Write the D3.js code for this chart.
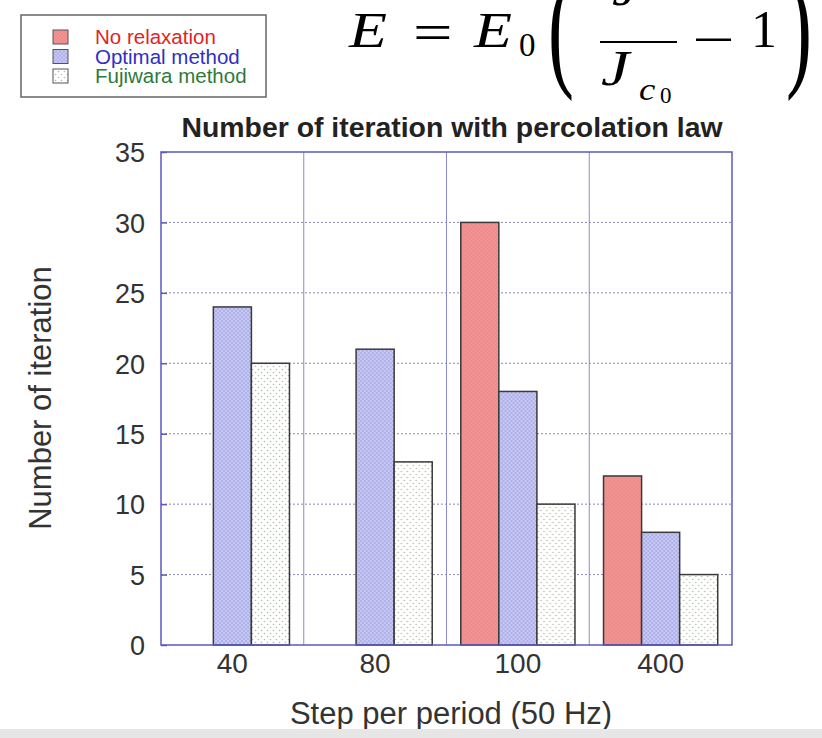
<!DOCTYPE html>
<html>
<head>
<meta charset="utf-8">
<script src="https://cdn.jsdelivr.net/npm/d3@7/dist/d3.min.js"></script>
<style>
  body { margin: 0; background: #fff; }
  svg { display: block; }
</style>
</head>
<body>
<div id="chart"></div>
<script>
const categories = ['40', '80', '100', '400'];
const seriesNames = ['No relaxation', 'Optimal method', 'Fujiwara method'];
const noRelaxation = [0, 0, 30, 12];
const optimalMethod = [24, 21, 18, 8];
const fujiwaraMethod = [20, 13, 10, 5];
const yTicks = [0, 5, 10, 15, 20, 25, 30, 35];

const seriesValues = [noRelaxation, optimalMethod, fujiwaraMethod];
const legendColors = ['#e02424', '#2f2fc4', '#2f7a3a'];

const width = 822;
const height = 738;
const margin = { top: 152, right: 90, bottom: 93, left: 161 };
const plotW = width - margin.left - margin.right;
const plotH = height - margin.top - margin.bottom;

const svg = d3.select('#chart')
  .append('svg')
  .attr('width', width)
  .attr('height', height)
  .style('font-family', '"Liberation Sans", Arial, sans-serif');

// Patterns for the bar fills
const defs = svg.append('defs');

function dotPattern(id, bg, dot, step, r) {
  const p = defs.append('pattern')
    .attr('id', id)
    .attr('patternUnits', 'userSpaceOnUse')
    .attr('width', step)
    .attr('height', step);
  p.append('rect').attr('width', step).attr('height', step).attr('fill', bg);
  p.append('circle').attr('cx', step / 4).attr('cy', step / 4).attr('r', r).attr('fill', dot);
  p.append('circle').attr('cx', step * 3 / 4).attr('cy', step * 3 / 4).attr('r', r).attr('fill', dot);
}
dotPattern('pat-red', '#f29494', '#e67c7c', 4, 0.7);
dotPattern('pat-blue', '#c9c9f6', '#8e8ed8', 4, 0.8);
dotPattern('pat-fuji', '#ffffff', '#b4bca6', 6, 0.8);
const fills = ['url(#pat-red)', 'url(#pat-blue)', 'url(#pat-fuji)'];

const g = svg.append('g')
  .attr('transform', `translate(${margin.left},${margin.top})`);

// Scales
const x0 = d3.scaleBand()
  .domain(categories)
  .range([0, plotW])
  .padding(0);

const pad = x0.bandwidth() * 0.1;
const x1 = d3.scaleBand()
  .domain(seriesNames)
  .range([pad, x0.bandwidth() - pad])
  .padding(0);

const y = d3.scaleLinear()
  .domain([0, 35])
  .range([plotH, 0]);

// Grid lines
g.selectAll('.hgrid')
  .data(yTicks.filter(d => d > 0 && d < 35))
  .enter().append('line')
  .attr('class', 'hgrid')
  .attr('x1', 0)
  .attr('x2', plotW)
  .attr('y1', d => y(d))
  .attr('y2', d => y(d))
  .style('stroke', '#8a8ab4')
  .style('stroke-width', '1px')
  .style('stroke-dasharray', '2,2');

g.selectAll('.vgrid')
  .data(categories.slice(1))
  .enter().append('line')
  .attr('class', 'vgrid')
  .attr('x1', d => x0(d))
  .attr('x2', d => x0(d))
  .attr('y1', 0)
  .attr('y2', plotH)
  .style('stroke', '#8a8ad0')
  .style('stroke-width', '1px');

// Bars
const groups = g.selectAll('.group')
  .data(categories)
  .enter().append('g')
  .attr('class', 'group')
  .attr('transform', d => `translate(${x0(d)},0)`);

groups.selectAll('rect')
  .data((d, i) => seriesNames.map((s, k) => ({ series: s, k: k, value: seriesValues[k][i] })))
  .enter().append('rect')
  .attr('x', d => x1(d.series))
  .attr('y', d => y(d.value))
  .attr('width', x1.bandwidth())
  .attr('height', d => plotH - y(d.value))
  .attr('fill', d => fills[d.k])
  .style('stroke', '#3a3a3a')
  .style('stroke-width', '1.5px');

// Frame
g.append('rect')
  .attr('width', plotW)
  .attr('height', plotH)
  .attr('fill', 'none')
  .style('stroke', '#5a5ac2')
  .style('stroke-width', '1.5px');

// Y axis
const yAxis = g.append('g')
  .call(d3.axisLeft(y).tickValues(yTicks).tickSize(-6).tickPadding(16));

yAxis.select('.domain').remove();
yAxis.selectAll('line')
  .style('stroke', '#5a5ac2')
  .style('stroke-width', '1.5px');
yAxis.selectAll('text')
  .style('font-size', '27px')
  .style('fill', '#333')
  .attr('dy', '0.36em');

// X axis
const xAxis = g.append('g')
  .attr('transform', `translate(0,${plotH})`)
  .call(d3.axisBottom(x0).tickSize(0).tickPadding(8));

xAxis.select('.domain').remove();
xAxis.selectAll('text')
  .style('font-size', '28px')
  .style('fill', '#333');

// Title
svg.append('text')
  .attr('x', 452)
  .attr('y', 137)
  .style('text-anchor', 'middle')
  .style('font-size', '28.4px')
  .style('font-weight', 'bold')
  .style('fill', '#222')
  .text('Number of iteration with percolation law');

// X Axis Label
svg.append('text')
  .attr('x', 451)
  .attr('y', 724)
  .style('text-anchor', 'middle')
  .style('font-size', '31px')
  .style('fill', '#333')
  .text('Step per period (50 Hz)');

// Y Axis Label
svg.append('text')
  .attr('transform', 'translate(51,398) rotate(-90)')
  .style('text-anchor', 'middle')
  .style('font-size', '31px')
  .style('fill', '#333')
  .text('Number of iteration');

// Legend
const legend = svg.append('g').attr('transform', 'translate(21,15)');
legend.append('rect')
  .attr('width', 245)
  .attr('height', 82)
  .attr('fill', '#fff')
  .style('stroke', '#666')
  .style('stroke-width', '1.5px');

const items = legend.selectAll('.item')
  .data(seriesNames)
  .enter().append('g')
  .attr('class', 'item')
  .attr('transform', (d, i) => `translate(0,${22 + i * 19.5})`);

items.append('rect')
  .attr('x', 32)
  .attr('y', -7)
  .attr('width', 15)
  .attr('height', 14)
  .attr('fill', (d, i) => fills[i])
  .style('stroke', '#555')
  .style('stroke-width', '1px');

items.append('text')
  .attr('x', 74)
  .attr('dy', '0.36em')
  .style('font-size', '20.5px')
  .style('fill', (d, i) => legendColors[i])
  .text(d => d);

// Formula
const serif = '"Liberation Serif", "DejaVu Serif", serif';
const eq = svg.append('g').style('font-family', serif).style('fill', '#000');

function eqText(str, x, yy, size, italic, sx, sy) {
  const t = eq.append('text')
    .attr('x', 0)
    .attr('y', 0)
    .attr('transform', `translate(${x},${yy}) scale(${sx || 1},${sy || 1})`)
    .style('font-size', size + 'px')
    .text(str);
  if (italic) t.style('font-style', 'italic');
  return t;
}
eqText('E', 349, 47, 51, true, 1.22);
eqText('=', 413, 50, 52, false, 1.35);
eqText('E', 474, 47, 51, true, 1.22);
eqText('0', 519, 56, 33, false);
eqText('(', 548, 72, 78, false, 1, 1.75);
eqText('J', 612, 5, 51, true, 1.2);
eq.append('line')
  .attr('x1', 600).attr('x2', 677)
  .attr('y1', 42).attr('y2', 42)
  .style('stroke', '#000')
  .style('stroke-width', '2.2px');
eqText('J', 601, 85, 51, true, 1.25);
eqText('c', 639, 100, 32, true, 1.15);
eqText('0', 660, 103, 23, false);
eqText('\u2212', 692, 57, 52, false, 1.45);
eqText('1', 751, 47, 52, false);
eqText(')', 786, 72, 78, false, 1, 1.75);

// Bottom grey band
svg.append('rect')
  .attr('x', 0).attr('y', 729)
  .attr('width', width).attr('height', 9)
  .attr('fill', '#e6e6e6');
</script>
</body>
</html>
